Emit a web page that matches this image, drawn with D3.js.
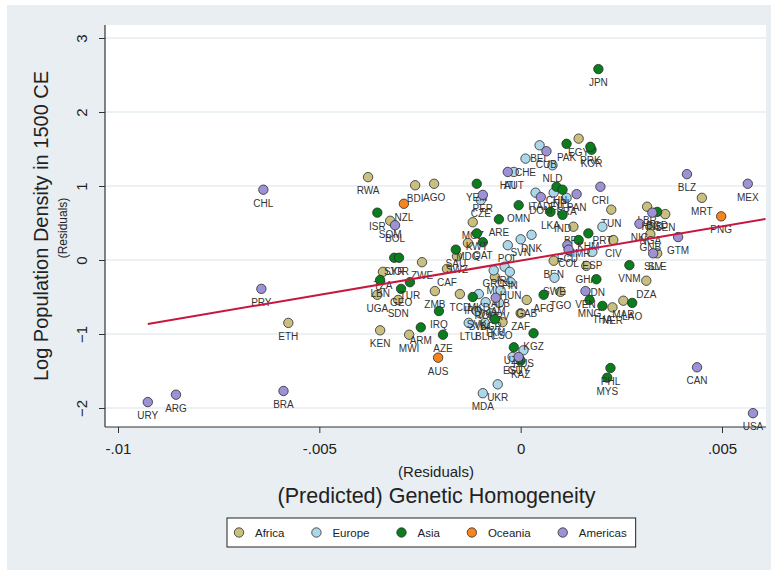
<!DOCTYPE html>
<html><head><meta charset="utf-8">
<script src="https://cdn.jsdelivr.net/npm/d3@7"></script>
<style>
body{margin:0;background:#fff;}
svg text{font-family:"Liberation Sans",Arial,sans-serif;}
</style>
</head><body>
<svg id="c" width="777" height="572"></svg>
<script>
// ---------------- data (residuals) ----------------
const africa = [
["ETH",-0.00577,-0.85],["RWA",-0.00379,1.12],["BDI",-0.00262,1.01],["AGO",-0.00215,1.03],
["SOM",-0.00324,0.53],["ZWE",-0.00245,-0.03],["TZA",-0.00342,-0.16],["UGA",-0.00356,-0.47],
["SDN",-0.00304,-0.54],["KEN",-0.00349,-0.95],["MWI",-0.00277,-1.01],["ZMB",-0.00213,-0.42],
["CAF",-0.00183,-0.12],["SWZ",-0.00158,0.05],["MDG",-0.00131,0.23],["MOZ",-0.00119,0.51],
["TCD",-0.00151,-0.46],["MLI",-0.00064,-0.23],["BWA",-0.00101,-0.72],["LSO",-0.00045,-0.84],
["ZAF",0.00000,-0.72],["GAB",0.00015,-0.54],["EGY",0.00144,1.64],["TUN",0.00225,0.68],
["BFA",0.00131,0.45],["CIV",0.00230,0.27],["BEN",0.00082,-0.01],["GHA",0.00163,-0.08],
["TGO",0.00099,-0.43],["NER",0.00228,-0.64],["MAR",0.00255,-0.55],["DZA",0.00312,-0.28],
["MRT",0.00450,0.84],["LBR",0.00314,0.72],["SEN",0.00359,0.62],["NGA",0.00322,0.45],
["GNB",0.00322,0.35],["SLE",0.00339,0.09]
];
const europe = [
["BEL",0.00047,1.55],["CHE",0.00012,1.37],["NLD",0.00079,1.28],["AUT",-0.00017,1.19],
["CZE",-0.00099,0.81],["ITA",0.00037,0.91],["DEU",0.00082,0.91],["FRA",0.00114,0.84],
["PRT",0.00203,0.45],["ESP",0.00178,0.11],["SWE",0.00084,-0.24],["DNK",0.00027,0.34],
["SVN",0.00000,0.28],["POL",-0.00032,0.20],["GRC",-0.00067,-0.14],["IRL",-0.00040,-0.09],
["FIN",-0.00027,-0.16],["HUN",-0.00025,-0.30],["MKD",-0.00104,-0.46],["ROU",-0.00087,-0.57],
["HRV",-0.00054,-0.58],["BGR",-0.00074,-0.72],["SVK",-0.00109,-0.69],["LTU",-0.00129,-0.85],
["BLR",-0.00089,-0.85],["ALB",-0.00050,-0.41],["UKR",-0.00057,-1.68],["MDA",-0.00094,-1.80],
["RUS",0.00007,-1.22],["EST",-0.00020,-1.31]
];
const asia = [
["JPN",0.00193,2.58],["PAK",0.00114,1.57],["KOR",0.00176,1.49],["PRK",0.00173,1.53],
["YEM",-0.00109,1.03],["OMN",-0.00005,0.74],["ARE",-0.00054,0.55],["KWT",-0.00109,0.36],
["QAT",-0.00094,0.24],["SAU",-0.00161,0.14],["ISR",-0.00356,0.64],["SYR",-0.00314,0.03],
["JOR",-0.00302,0.03],["LBN",-0.00349,-0.27],["TUR",-0.00275,-0.30],["GEO",-0.00297,-0.39],
["IRQ",-0.00203,-0.69],["ARM",-0.00248,-0.91],["AZE",-0.00193,-1.01],["CHN",0.00089,0.99],
["NPL",0.00104,0.95],["LKA",0.00074,0.65],["IND",0.00104,0.61],["KHM",0.00168,0.36],
["MMR",0.00144,0.27],["IDN",0.00188,-0.26],["AFG",0.00057,-0.47],["MNG",0.00171,-0.54],
["THA",0.00203,-0.62],["LAO",0.00277,-0.58],["VNM",0.00270,-0.07],["PHL",0.00223,-1.46],
["MYS",0.00215,-1.59],["KGZ",0.00032,-0.99],["UZB",-0.00017,-1.18],["KAZ",0.00000,-1.36],
["IRN",-0.00119,-0.50],["TKM",-0.00064,-0.80],["BGD",0.00339,0.65]
];
const oceania = [["NZL",-0.00290,0.76],["AUS",-0.00205,-1.32],["PNG",0.00498,0.59]];
const americas = [
["URY",-0.00926,-1.92],["ARG",-0.00856,-1.82],["PRY",-0.00644,-0.39],["CHL",-0.00639,0.95],
["BRA",-0.00589,-1.77],["BOL",-0.00312,0.47],["PER",-0.00094,0.88],["HTI",-0.00032,1.19],
["CUB",0.00064,1.47],["DOM",0.00050,0.85],["PAN",0.00139,0.89],["CRI",0.00198,0.99],
["ECU",0.00116,0.20],["COL",0.00119,0.14],["VEN",0.00161,-0.42],["HND",0.00327,0.64],
["NIC",0.00295,0.49],["SLV",0.00329,0.09],["GTM",0.00391,0.31],["BLZ",0.00413,1.16],
["MEX",0.00564,1.03],["CAN",0.00438,-1.45],["USA",0.00577,-2.07],["GUY",-0.00005,-1.31],
["JAM",-0.00062,-0.51]
];
const regionNames = ["Africa","Europe","Asia","Oceania","Americas"];
const regionColors = ["#c9bf80","#acd7e8","#0a7d1c","#f7851e","#9d92d6"];
const xTickValues = [-0.01,-0.005,0,0.005];
const xTickLabels = ["-.01","-.005","0",".005"];
const yTickValues = [-2,-1,0,1,2,3];
const fitRange = [-0.00926, 0.00608];
const fitIntercept = -0.0075, fitSlope = 92.6;

// ---------------- drawing ----------------
const svg = d3.select("#c");
const L=105, R=766, T=25, B=427;
svg.append("rect").attr("x",7).attr("y",5).attr("width",764).attr("height",565).attr("fill","#e8eef1");
svg.append("rect").attr("x",L).attr("y",T).attr("width",R-L).attr("height",B-T).attr("fill","#fff");

const x = d3.scaleLinear().domain([-0.01,0.005]).range([118,722]);
const y = d3.scaleLinear().domain([-2,3]).range([408,38]);

// gridlines
svg.append("g").selectAll("line").data(yTickValues).join("line")
  .attr("x1",L).attr("x2",R).attr("y1",d=>y(d)).attr("y2",d=>y(d))
  .attr("stroke","#e6edf0").attr("stroke-width",1.4);

// axes
const ya = svg.append("g").attr("transform",`translate(${L},0)`)
  .call(d3.axisLeft(y).tickValues(yTickValues).tickSize(6).tickSizeOuter(0).tickFormat(d3.format("d")));
ya.select(".domain").remove();
ya.selectAll(".tick line").attr("stroke","#333");
ya.selectAll(".tick text").attr("x",null).attr("dy",null).attr("text-anchor","middle")
  .attr("transform","translate(-18,0) rotate(-90)").attr("font-size",15).attr("fill","#222")
  .style("font-family",'"Liberation Sans",Arial,sans-serif');

const xa = svg.append("g").attr("transform",`translate(0,${B})`)
  .call(d3.axisBottom(x).tickValues(xTickValues).tickSize(6).tickSizeOuter(0).tickPadding(10)
    .tickFormat((d,i)=>xTickLabels[i]));
xa.select(".domain").remove();
xa.selectAll(".tick line").attr("stroke","#333");
xa.selectAll(".tick text").attr("font-size",15).attr("fill","#222")
  .style("font-family",'"Liberation Sans",Arial,sans-serif');

svg.append("line").attr("x1",L).attr("x2",L).attr("y1",T).attr("y2",B).attr("stroke","#333").attr("stroke-width",1.2);
svg.append("line").attr("x1",L).attr("x2",R).attr("y1",B).attr("y2",B).attr("stroke","#333").attr("stroke-width",1.2);

// titles
svg.append("text").attr("transform","translate(48,226) rotate(-90)").attr("text-anchor","middle")
  .attr("font-size",20).attr("fill","#222").text("Log Population Density in 1500 CE");
svg.append("text").attr("transform","translate(67,228) rotate(-90)").attr("text-anchor","middle")
  .attr("font-size",12).attr("fill","#222").text("(Residuals)");
svg.append("text").attr("x",436).attr("y",477).attr("text-anchor","middle")
  .attr("font-size",15).attr("fill","#222").text("(Residuals)");
svg.append("text").attr("x",436.5).attr("y",503).attr("text-anchor","middle")
  .attr("font-size",21.5).attr("fill","#222").text("(Predicted) Genetic Homogeneity");

// points
const groups = [africa,europe,asia,oceania,americas];
groups.forEach((arr,gi)=>{
  const g = svg.append("g");
  g.selectAll("circle").data(arr).join("circle")
    .attr("cx",d=>x(d[1])).attr("cy",d=>y(d[2])).attr("r",4.7)
    .attr("fill",regionColors[gi]).attr("stroke","#2a2a2a").attr("stroke-width",0.8);
  g.selectAll("text").data(arr).join("text")
    .attr("x",d=>x(d[1])).attr("y",d=>y(d[2])+17).attr("text-anchor","middle")
    .attr("font-size",10).attr("fill","#333").text(d=>d[0]);
});

// fit line
svg.append("line")
  .attr("x1",x(fitRange[0])).attr("y1",y(fitIntercept+fitSlope*fitRange[0]))
  .attr("x2",x(fitRange[1])).attr("y2",y(fitIntercept+fitSlope*fitRange[1]))
  .attr("stroke","#c8173c").attr("stroke-width",2);

// legend
const lg = svg.append("g");
const box = lg.append("rect").attr("y",518).attr("height",29).attr("x",227)
  .attr("fill","#fff").attr("stroke","#222").attr("stroke-width",1);
let cx = 239;
regionNames.forEach((n,i)=>{
  lg.append("circle").attr("cx",cx).attr("cy",532.5).attr("r",4.7)
    .attr("fill",regionColors[i]).attr("stroke","#2a2a2a").attr("stroke-width",0.8);
  const t = lg.append("text").attr("x",cx+16).attr("y",536.5).attr("font-size",11.5).attr("fill","#222").text(n);
  const w = t.node().getComputedTextLength();
  cx = cx+16+w+32;
});
box.attr("width", cx-32+9-227);
</script>
</body></html>
